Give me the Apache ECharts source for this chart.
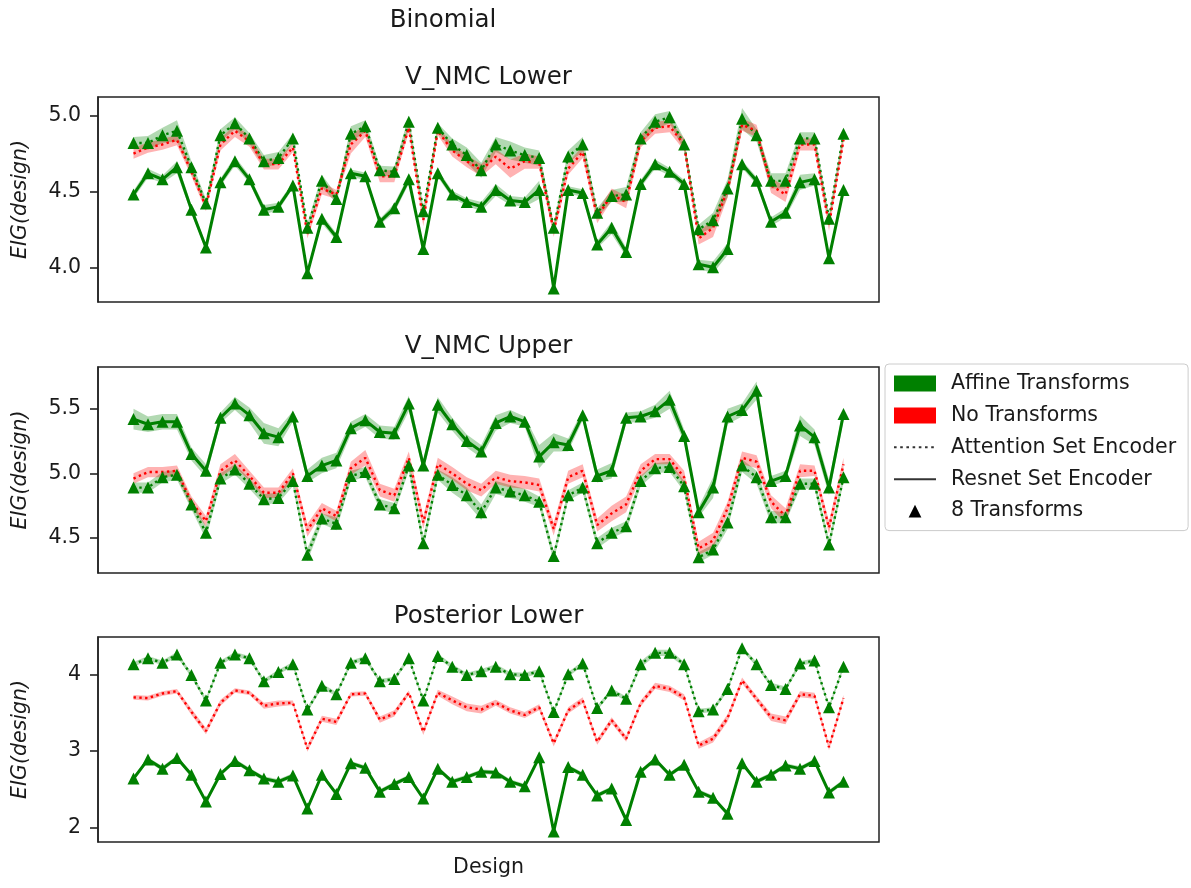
<!DOCTYPE html>
<html><head><meta charset="utf-8">
<script src="https://cdn.jsdelivr.net/npm/echarts@6/dist/echarts.min.js"></script>
<style>html,body{margin:0;padding:0;background:#fff}#c{width:1191px;height:888px}</style>
</head><body><div id="c"></div><script>
// ---------- data ----------
const designs = [0,1,2,3,4,5,6,7,8,9,10,11,12,13,14,15,16,17,18,19,20,21,22,23,24,25,26,27,28,29,30,31,32,33,34,35,36,37,38,39,40,41,42,43,44,45,46,47,48,49];

// Panel 1: V_NMC Lower
const p1AffineAttention = [4.82,4.82,4.87,4.90,4.66,4.42,4.87,4.95,4.85,4.70,4.72,4.85,4.26,4.57,4.45,4.88,4.93,4.64,4.63,4.96,4.37,4.92,4.81,4.74,4.64,4.81,4.77,4.74,4.72,4.26,4.73,4.81,4.36,4.47,4.48,4.85,4.96,4.99,4.81,4.25,4.31,4.52,4.98,4.87,4.57,4.57,4.85,4.85,4.32,4.88];
const p1AffineAttentionSd = [0.04,0.045,0.05,0.07,0.04,0.03,0.04,0.04,0.035,0.04,0.04,0.03,0.03,0.04,0.03,0.05,0.04,0.03,0.035,0.04,0.03,0.03,0.04,0.05,0.05,0.05,0.06,0.05,0.05,0.03,0.04,0.05,0.03,0.04,0.05,0.04,0.05,0.04,0.04,0.03,0.05,0.06,0.07,0.04,0.05,0.05,0.04,0.04,0.03,0.03];
const p1AffineResnet = [4.48,4.62,4.58,4.66,4.38,4.13,4.56,4.70,4.58,4.38,4.40,4.54,3.96,4.32,4.20,4.62,4.60,4.30,4.39,4.58,4.12,4.62,4.48,4.43,4.40,4.51,4.44,4.43,4.51,3.86,4.51,4.49,4.15,4.26,4.10,4.55,4.68,4.63,4.55,4.02,4.00,4.12,4.68,4.57,4.30,4.36,4.56,4.58,4.06,4.51];
const p1AffineResnetSd = [0.025,0.03,0.025,0.04,0.025,0.02,0.025,0.03,0.025,0.03,0.025,0.02,0.02,0.03,0.025,0.025,0.025,0.02,0.03,0.03,0.02,0.025,0.025,0.025,0.03,0.04,0.03,0.03,0.06,0.02,0.025,0.025,0.025,0.04,0.03,0.025,0.03,0.025,0.025,0.03,0.04,0.04,0.025,0.025,0.03,0.03,0.05,0.04,0.03,0.025];
const p1NoneAttention = [4.75,4.79,4.81,4.84,4.63,4.40,4.81,4.90,4.83,4.68,4.68,4.79,4.22,4.52,4.48,4.81,4.90,4.60,4.60,4.92,4.31,4.90,4.77,4.70,4.64,4.73,4.65,4.70,4.69,4.24,4.65,4.76,4.33,4.48,4.43,4.83,4.92,4.93,4.81,4.19,4.26,4.51,4.94,4.90,4.54,4.48,4.81,4.81,4.28,4.84];
const p1NoneAttentionSd = [0.035,0.035,0.035,0.035,0.03,0.03,0.04,0.04,0.035,0.035,0.035,0.03,0.03,0.04,0.03,0.06,0.04,0.04,0.04,0.03,0.04,0.03,0.04,0.04,0.04,0.05,0.06,0.05,0.04,0.04,0.04,0.04,0.04,0.04,0.04,0.04,0.04,0.04,0.04,0.04,0.06,0.05,0.04,0.04,0.05,0.05,0.04,0.04,0.04,0.03];

// Panel 2: V_NMC Upper
const p2AffineResnet = [5.42,5.38,5.40,5.40,5.15,5.02,5.43,5.54,5.45,5.31,5.28,5.44,4.98,5.06,5.10,5.35,5.41,5.32,5.31,5.54,5.06,5.53,5.38,5.25,5.17,5.39,5.44,5.40,5.13,5.24,5.22,5.45,4.98,5.02,5.43,5.44,5.48,5.57,5.29,4.70,4.89,5.44,5.49,5.64,4.94,4.98,5.37,5.28,4.89,5.46];
const p2AffineResnetSd = [0.08,0.06,0.06,0.06,0.05,0.05,0.04,0.05,0.06,0.08,0.07,0.04,0.05,0.06,0.06,0.05,0.05,0.05,0.05,0.06,0.05,0.06,0.05,0.05,0.05,0.06,0.05,0.04,0.09,0.07,0.05,0.04,0.05,0.06,0.04,0.04,0.05,0.07,0.05,0.04,0.08,0.06,0.05,0.07,0.04,0.04,0.08,0.06,0.06,0.05];
const p2AffineAttention = [4.89,4.89,4.97,4.99,4.76,4.54,4.96,5.03,4.92,4.80,4.81,4.94,4.37,4.65,4.61,4.98,5.01,4.76,4.73,5.06,4.46,4.99,4.91,4.83,4.70,4.89,4.86,4.83,4.78,4.36,4.83,4.89,4.46,4.54,4.59,4.94,5.04,5.05,4.90,4.35,4.41,4.62,5.06,4.97,4.66,4.66,4.92,4.92,4.45,4.97];
const p2AffineAttentionSd = [0.04,0.04,0.04,0.04,0.04,0.05,0.04,0.04,0.04,0.04,0.04,0.04,0.05,0.04,0.05,0.04,0.04,0.04,0.04,0.04,0.05,0.04,0.06,0.06,0.06,0.05,0.05,0.05,0.04,0.04,0.04,0.04,0.04,0.04,0.04,0.04,0.04,0.04,0.04,0.04,0.04,0.05,0.05,0.05,0.05,0.04,0.04,0.04,0.04,0.04];
const p2NoneAttention = [4.96,5.01,5.01,5.02,4.78,4.63,5.02,5.10,4.98,4.85,4.85,5.00,4.56,4.73,4.67,5.04,5.12,4.87,4.83,5.12,4.62,5.07,5.00,4.92,4.87,4.97,4.94,4.93,4.91,4.57,4.97,5.02,4.60,4.69,4.76,5.02,5.11,5.11,4.97,4.42,4.48,4.73,5.12,5.09,4.78,4.67,5.02,5.02,4.58,5.07];
const p2NoneAttentionSd = [0.04,0.04,0.04,0.04,0.04,0.04,0.05,0.05,0.04,0.04,0.04,0.04,0.05,0.04,0.04,0.05,0.06,0.05,0.05,0.05,0.05,0.05,0.05,0.05,0.05,0.05,0.05,0.05,0.05,0.05,0.05,0.05,0.05,0.06,0.06,0.05,0.04,0.04,0.05,0.05,0.06,0.05,0.05,0.05,0.05,0.06,0.05,0.04,0.05,0.05];

// Panel 3: Posterior Lower
const p3AffineAttention = [4.13,4.21,4.15,4.26,3.99,3.66,4.15,4.26,4.21,3.91,4.03,4.13,3.54,3.85,3.74,4.15,4.21,3.91,3.94,4.21,3.66,4.24,4.10,3.99,4.04,4.10,4.00,3.99,4.04,3.51,4.00,4.14,3.56,3.79,3.68,4.13,4.28,4.28,4.13,3.52,3.54,3.81,4.34,4.13,3.86,3.81,4.14,4.18,3.57,4.10];
const p3AffineAttentionSd = [0.03,0.03,0.03,0.03,0.03,0.03,0.03,0.03,0.03,0.03,0.03,0.03,0.03,0.03,0.03,0.03,0.03,0.03,0.03,0.03,0.03,0.03,0.03,0.03,0.03,0.03,0.03,0.03,0.03,0.03,0.03,0.03,0.03,0.03,0.03,0.04,0.04,0.04,0.03,0.03,0.03,0.03,0.03,0.03,0.03,0.03,0.03,0.03,0.03,0.03];
const p3NoneAttention = [3.70,3.69,3.75,3.78,3.51,3.26,3.63,3.79,3.76,3.59,3.62,3.63,3.03,3.42,3.38,3.74,3.75,3.41,3.49,3.76,3.25,3.76,3.66,3.57,3.54,3.63,3.53,3.47,3.57,3.10,3.53,3.66,3.12,3.40,3.16,3.62,3.85,3.81,3.70,3.07,3.16,3.43,3.92,3.68,3.44,3.40,3.74,3.72,3.05,3.69];
const p3NoneAttentionSd = [0.03,0.03,0.03,0.03,0.04,0.04,0.04,0.03,0.03,0.04,0.04,0.03,0.04,0.04,0.04,0.03,0.03,0.04,0.04,0.03,0.04,0.04,0.05,0.05,0.05,0.04,0.04,0.04,0.04,0.04,0.04,0.04,0.04,0.04,0.04,0.04,0.04,0.04,0.04,0.04,0.05,0.05,0.04,0.04,0.05,0.05,0.04,0.04,0.04,0.04];
const p3AffineResnet = [2.64,2.89,2.77,2.91,2.69,2.34,2.70,2.87,2.75,2.64,2.60,2.68,2.25,2.69,2.44,2.84,2.78,2.47,2.57,2.66,2.38,2.77,2.60,2.66,2.73,2.72,2.60,2.54,2.92,1.95,2.79,2.69,2.42,2.51,2.10,2.73,2.89,2.69,2.82,2.47,2.39,2.18,2.84,2.60,2.69,2.81,2.77,2.87,2.46,2.60];
const p3AffineResnetSd = [0.03,0.03,0.03,0.03,0.03,0.03,0.03,0.03,0.03,0.03,0.03,0.03,0.03,0.03,0.03,0.03,0.03,0.03,0.03,0.03,0.03,0.03,0.03,0.03,0.03,0.03,0.03,0.03,0.03,0.03,0.03,0.03,0.03,0.03,0.03,0.03,0.03,0.03,0.03,0.03,0.03,0.03,0.03,0.03,0.03,0.03,0.03,0.03,0.03,0.03];

// axis ticks
const p1Ticks = [4.0, 4.5, 5.0];
const p1TickLabels = ['4.0', '4.5', '5.0'];
const p2Ticks = [4.5, 5.0, 5.5];
const p2TickLabels = ['4.5', '5.0', '5.5'];
const p3Ticks = [2, 3, 4];
const p3TickLabels = ['2', '3', '4'];
const panelTitles = ['V_NMC Lower', 'V_NMC Upper', 'Posterior Lower'];
const legendNames = ['Affine Transforms', 'No Transforms', 'Attention Set Encoder', 'Resnet Set Encoder', '8 Transforms'];

// ---------- styling / layout ----------
const FONT = 'DejaVu Sans';
const GREEN = '#008000', RED = '#ff0000';
const GREEN_BAND = 'rgba(0,128,0,0.3)', RED_BAND = 'rgba(255,0,0,0.3)';
const TXT = '#1a1a1a';
const gridLeft = 98, gridWidth = 781;
const gridTops = [97, 367, 637], gridHeights = [205, 206, 205];
const yRanges = [[3.771, 5.123], [4.229, 5.823], [1.813, 4.487]];
const tickSets = [[p1Ticks, p1TickLabels], [p2Ticks, p2TickLabels], [p3Ticks, p3TickLabels]];

const grids = [], xAxes = [], yAxes = [];
for (let g = 0; g < 3; g++) {
  grids.push({left: gridLeft, top: gridTops[g], width: gridWidth, height: gridHeights[g],
    show: true, borderColor: '#222', borderWidth: 1.5, backgroundColor: 'transparent'});
  xAxes.push({gridIndex: g, type: 'value', min: -2.45, max: 51.45, show: false});
  const [tv, tl] = tickSets[g];
  yAxes.push({gridIndex: g, type: 'value', min: yRanges[g][0], max: yRanges[g][1], position: 'left',
    axisLine: {show: true, onZero: false, lineStyle: {color: '#222', width: 1.5}}, splitLine: {show: false},
    axisTick: {show: true, length: 8, customValues: tv, lineStyle: {color: '#222', width: 1.6}},
    axisLabel: {customValues: tv, margin: 17, fontSize: 20.5, fontFamily: FONT, color: TXT,
      formatter: v => { const i = tv.findIndex(t => Math.abs(t - v) < 1e-9); return i >= 0 ? tl[i] : ''; }}});
}

function band(g, mean, sd, color) {
  const pts = designs.map((x, i) => [x, mean[i] - sd[i], mean[i] + sd[i]]);
  return {type: 'custom', xAxisIndex: g, yAxisIndex: g, silent: true, data: pts,
    encode: {x: 0, y: [1, 2]}, clip: true,
    renderItem(params, api) {
      if (params.dataIndex !== 0) return null;
      const top = pts.map(p => api.coord([p[0], p[2]]));
      const bot = pts.map(p => api.coord([p[0], p[1]])).reverse();
      return {type: 'polygon', shape: {points: top.concat(bot)}, style: {fill: color, stroke: null}};
    }};
}
function line(g, vals, color, dotted, marker) {
  return {type: 'line', xAxisIndex: g, yAxisIndex: g, silent: true,
    data: designs.map((x, i) => [x, vals[i]]),
    symbol: marker ? 'triangle' : 'none', symbolSize: 12, showSymbol: !!marker, showAllSymbol: true,
    lineStyle: {color: color, width: dotted ? 2.4 : 3, type: dotted ? [2.4, 3.4] : 'solid'},
    itemStyle: {color: color}, emphasis: {disabled: true}};
}

const series = [
  // panel 1
  band(0, p1AffineAttention, p1AffineAttentionSd, GREEN_BAND),
  band(0, p1AffineResnet, p1AffineResnetSd, GREEN_BAND),
  line(0, p1AffineAttention, GREEN, true, true),
  line(0, p1AffineResnet, GREEN, false, true),
  band(0, p1NoneAttention, p1NoneAttentionSd, RED_BAND),
  line(0, p1NoneAttention, RED, true, false),
  // panel 2
  band(1, p2AffineAttention, p2AffineAttentionSd, GREEN_BAND),
  band(1, p2AffineResnet, p2AffineResnetSd, GREEN_BAND),
  line(1, p2AffineAttention, GREEN, true, true),
  line(1, p2AffineResnet, GREEN, false, true),
  band(1, p2NoneAttention, p2NoneAttentionSd, RED_BAND),
  line(1, p2NoneAttention, RED, true, false),
  // panel 3
  band(2, p3AffineAttention, p3AffineAttentionSd, GREEN_BAND),
  band(2, p3AffineResnet, p3AffineResnetSd, GREEN_BAND),
  line(2, p3AffineAttention, GREEN, true, true),
  line(2, p3AffineResnet, GREEN, false, true),
  band(2, p3NoneAttention, p3NoneAttentionSd, RED_BAND),
  line(2, p3NoneAttention, RED, true, false),
  // legend proxies
  {name: legendNames[0], type: 'line', data: [], itemStyle: {color: GREEN}, lineStyle: {color: GREEN}},
  {name: legendNames[1], type: 'line', data: [], itemStyle: {color: RED}, lineStyle: {color: RED}},
  {name: legendNames[2], type: 'line', data: [], symbol: 'none', itemStyle: {color: '#333'}, lineStyle: {color: '#333', width: 2.6, type: [2.6, 3.6]}},
  {name: legendNames[3], type: 'line', data: [], symbol: 'none', itemStyle: {color: '#333'}, lineStyle: {color: '#333', width: 3}},
  {name: legendNames[4], type: 'line', data: [], symbol: 'triangle', itemStyle: {color: '#000'}, lineStyle: {color: '#000', opacity: 0}}
];

function txt(x, y, s, size, extra) {
  return Object.assign({type: 'text', x: x, y: y, silent: true,
    style: {text: s, fontSize: size, fontFamily: FONT, fill: TXT,
      align: 'center', verticalAlign: 'middle', textAlign: 'center', textVerticalAlign: 'middle'}}, extra || {});
}
const graphics = [
  txt(443, 21, 'Binomial', 24.5),
  txt(488.5, 78, panelTitles[0], 24.5),
  txt(488.5, 347, panelTitles[1], 24.5),
  txt(488.5, 617, panelTitles[2], 24.5),
  txt(488.5, 868, 'Design', 20.5)
];
for (let g = 0; g < 3; g++) {
  const t = txt(21, gridTops[g] + gridHeights[g] / 2, 'EIG(design)', 20.5, {rotation: Math.PI / 2});
  t.style.fontStyle = 'italic';
  graphics.push(t);
}

const option = {
  animation: false,
  backgroundColor: '#fff',
  grid: grids, xAxis: xAxes, yAxis: yAxes, series: series, graphic: graphics,
  legend: {
    orient: 'vertical', left: 885, top: 364, padding: [9, 12, 9, 8],
    itemWidth: 42, itemHeight: 16, itemGap: 10.9, selectedMode: false,
    borderColor: '#cccccc', borderWidth: 1, borderRadius: 4, backgroundColor: 'rgba(255,255,255,0.8)',
    textStyle: {fontSize: 20.5, fontFamily: FONT, color: TXT, lineHeight: 20, padding: [0, 0, 0, 10]},
    data: [
      {name: legendNames[0], icon: 'rect', itemStyle: {color: GREEN}},
      {name: legendNames[1], icon: 'rect', itemStyle: {color: RED}},
      {name: legendNames[2], itemStyle: {opacity: 0}},
      {name: legendNames[3], itemStyle: {opacity: 0}},
      {name: legendNames[4], lineStyle: {opacity: 0}}
    ]
  }
};
const chart = echarts.init(document.getElementById('c'), null, {renderer: 'canvas'});
chart.setOption(option);
</script></body></html>
